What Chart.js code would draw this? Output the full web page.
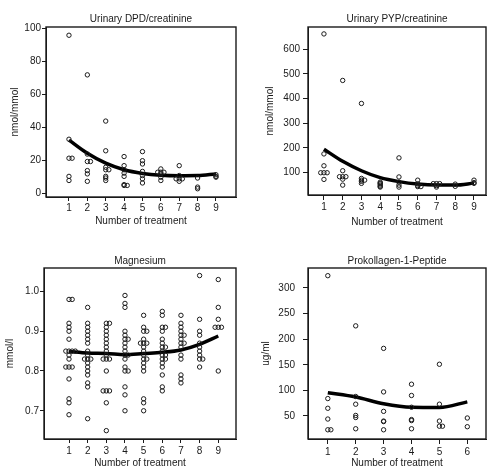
<!DOCTYPE html>
<html><head><meta charset="utf-8">
<script src="https://cdn.jsdelivr.net/npm/chart.js@4.4.0/dist/chart.umd.min.js"></script>
<style>
html,body{margin:0;padding:0;background:#fff;}
#wrap{position:relative;width:500px;height:475px;overflow:hidden;background:#fff;}
canvas{position:absolute;}
</style></head><body>
<div id="wrap">
<canvas id="c1" width="250" height="238" style="left:0px;top:0px"></canvas>
<canvas id="c2" width="250" height="238" style="left:250px;top:0px"></canvas>
<canvas id="c3" width="250" height="238" style="left:0px;top:237px"></canvas>
<canvas id="c4" width="250" height="238" style="left:250px;top:237px"></canvas>
</div>
<script>
// ---- data ----
const treatments9 = [1,2,3,4,5,6,7,8,9];
const treatments6 = [1,2,3,4,5,6];

const titles = ["Urinary DPD/creatinine","Urinary PYP/creatinine","Magnesium","Prokollagen-1-Peptide"];
const yTitles = ["nmol/mmol","nmol/mmol","mmol/l","ug/ml"];
const xTitle = "Number of treatment";

const dpdTicks = [0,20,40,60,80,100];
const pypTicks = [100,200,300,400,500,600];
const mgTicks = [0.7,0.8,0.9,1.0];
const prokTicks = [50,100,150,200,250,300];

const dpdValues = [
  [96,33,21.5,21.5,10.5,8],
  [72,24,19.5,19.5,14,12,7.5],
  [44,26,16,14.5,14.5,10.5,9.5,8],
  [22.5,17,14.5,12.5,10.5,5.5,5,5],
  [25.5,20,18,13.5,11,9,6.5],
  [15,13,13,13,12,10,8],
  [17,11,9,9,9,7.5],
  [9.5,4,3],
  [11.5,10.5,10]
];
const dpdCurve = [32.5,24.5,18.5,14.5,12.3,11.2,10.9,11,12];

const pypValues = [
  [661,176,128,100,100,100,73],
  [473,108,84,84,84,74,50],
  [380,77,70,70,65,57],
  [62,58,55,50,45,42],
  [160,83,62,50,42],
  [70,55,48,44,44],
  [56,56,56,48,42],
  [54,45],
  [70,60,57]
];
const pypCurve = [195,146,108,80,64,54,50,50,58];

const mgValues = [
  [0.98,0.98,0.92,0.91,0.90,0.88,0.85,0.85,0.85,0.85,0.84,0.83,0.81,0.81,0.81,0.78,0.73,0.72,0.69],
  [0.96,0.92,0.91,0.90,0.89,0.88,0.87,0.85,0.84,0.83,0.83,0.83,0.82,0.81,0.80,0.79,0.77,0.76,0.68],
  [0.92,0.92,0.91,0.90,0.89,0.88,0.87,0.86,0.85,0.84,0.83,0.83,0.83,0.80,0.75,0.75,0.75,0.72,0.65],
  [0.99,0.97,0.96,0.90,0.89,0.88,0.88,0.87,0.86,0.85,0.84,0.84,0.83,0.81,0.80,0.80,0.76,0.74,0.70],
  [0.94,0.91,0.90,0.90,0.88,0.87,0.87,0.87,0.86,0.85,0.84,0.83,0.83,0.82,0.81,0.80,0.73,0.72,0.70],
  [0.95,0.94,0.91,0.91,0.90,0.88,0.87,0.86,0.86,0.85,0.84,0.84,0.83,0.83,0.82,0.81,0.79,0.76,0.75],
  [0.94,0.92,0.91,0.90,0.89,0.89,0.88,0.87,0.87,0.86,0.84,0.83,0.79,0.78,0.77],
  [1.04,0.93,0.90,0.89,0.87,0.86,0.85,0.84,0.83,0.83,0.81],
  [1.03,0.96,0.93,0.91,0.91,0.91,0.80]
];
const mgCurve = [0.849,0.845,0.844,0.841,0.844,0.847,0.853,0.867,0.888];

const prokValues = [
  [324,84,65,44,23,23],
  [226,88,73,51,47,25],
  [182,97,59,40,39,23],
  [112,90,67,43,41,25],
  [151,73,40,30,30],
  [46,29]
];
const prokCurve = [95.5,87,74,67,66.5,77.5];

// ---- helpers ----
const FONT = "'Liberation Sans', Arial, sans-serif";
const INK = '#1a1a1a';

function toPoints(cats, groups, step){
  const pts = [];
  const jit = [0, 1, -1, 2, -2, 3];
  groups.forEach((vals, i) => {
    const seen = {};
    vals.forEach(v => {
      const k = seen[v] || 0; seen[v] = k + 1;
      pts.push({x: cats[i] + jit[k] * step, y: v});
    });
  });
  return pts;
}
function toCurve(cats, vals){ return cats.map((c,i)=>({x:c, y:vals[i]})); }

const framePlugin = {
  id: 'frameAndTitle',
  afterDraw(chart, args, opts){
    const {ctx, chartArea:a} = chart;
    ctx.save();
    ctx.strokeStyle = INK; ctx.lineWidth = 1.4;
    ctx.strokeRect(a.left, a.top, a.right - a.left, a.bottom - a.top);
    ctx.fillStyle = INK;
    ctx.font = '10px ' + FONT;
    ctx.textAlign = 'center'; ctx.textBaseline = 'middle';
    ctx.fillText(opts.text, (a.left + a.right)/2, opts.y);
    ctx.restore();
  }
};

function makePanel(id, cfg){
  const H = 238, W = 250;
  const box = cfg.box; // local coords l,t,r,b
  new Chart(document.getElementById(id), {
    type: 'scatter',
    data: { datasets: [
      { data: toPoints(cfg.cats, cfg.values, cfg.jitter), pointRadius: 2.2, pointBorderWidth: 1,
        pointBorderColor: INK, pointBackgroundColor: 'rgba(0,0,0,0)', borderColor: INK, backgroundColor:'rgba(0,0,0,0)' },
      { data: toCurve(cfg.cats, cfg.curve), showLine: true, pointRadius: 0, borderColor: '#000',
        borderWidth: 3.5, tension: 0.4, cubicInterpolationMode: 'monotone', fill: false }
    ]},
    options: {
      responsive: false, animation: false, devicePixelRatio: 1,
      layout: { padding: { left: 0, top: box.t, right: W - box.r, bottom: 0 } },
      plugins: { legend: {display:false}, tooltip: {enabled:false},
        frameAndTitle: { text: cfg.title, y: cfg.titleY } },
      scales: {
        x: {
          type: 'linear', min: cfg.xmin, max: cfg.xmax,
          afterBuildTicks: s => { s.ticks = cfg.cats.map(v => ({value: v})); },
          afterFit: s => { s.height = H - box.b; },
          grid: { drawOnChartArea: false, drawTicks: true, tickLength: cfg.xTick, color: INK, lineWidth: 1 },
          border: { display: true, color: INK, width: 1 },
          ticks: { color: INK, font: {family: FONT, size: 10}, padding: cfg.xPad, maxRotation: 0, autoSkip: false },
          title: { display: true, text: xTitle, color: INK, font: {family: FONT, size: 10}, padding: {top: 0, bottom: cfg.xTitlePad} }
        },
        y: {
          type: 'linear', min: cfg.ymin, max: cfg.ymax,
          afterBuildTicks: s => { s.ticks = cfg.yTicks.map(v => ({value: v})); },
          afterFit: s => { s.width = box.l; },
          grid: { drawOnChartArea: false, drawTicks: true, tickLength: cfg.yTick, color: INK, lineWidth: 1 },
          border: { display: true, color: INK, width: 1 },
          ticks: { color: INK, font: {family: FONT, size: 10}, padding: cfg.yPad, autoSkip: false,
                   callback: cfg.fmt || (v => String(v)) },
          title: { display: true, text: cfg.yTitle, color: INK, font: {family: FONT, size: 10}, padding: {top: cfg.yTitlePad, bottom: 0} }
        }
      }
    },
    plugins: [framePlugin]
  });
}

makePanel('c1', { title: titles[0], yTitle: yTitles[0], titleY: 19,
  box: {l:46, t:27, r:236, b:197}, cats: treatments9, values: dpdValues, curve: dpdCurve, jitter: 0.17,
  xmin: -0.25, xmax: 10.09, ymin: -2, ymax: 101, yTicks: dpdTicks,
  xTick: 4, xPad: 1, yTick: 4, yPad: 1, xTitlePad: 11, yTitlePad: 9 });

makePanel('c2', { title: titles[1], yTitle: yTitles[1], titleY: 19,
  box: {l:58, t:27, r:236, b:195}, cats: treatments9, values: pypValues, curve: pypCurve, jitter: 0.17,
  xmin: 0.15, xmax: 9.64, ymin: 10, ymax: 689, yTicks: pypTicks,
  xTick: 5, xPad: 1, yTick: 5, yPad: 3, xTitlePad: 10, yTitlePad: 14 });

makePanel('c3', { title: titles[2], yTitle: yTitles[2], titleY: 24,
  box: {l:44, t:31, r:236, b:202}, cats: treatments9, values: mgValues, curve: mgCurve, jitter: 0.17,
  xmin: -0.34, xmax: 9.95, ymin: 0.629, ymax: 1.059, yTicks: mgTicks, fmt: v => v.toFixed(1),
  xTick: 4, xPad: 2, yTick: 4, yPad: 1, xTitlePad: 6, yTitlePad: 4 });

makePanel('c4', { title: titles[3], yTitle: yTitles[3], titleY: 24,
  box: {l:58, t:31, r:236, b:202}, cats: treatments6, values: prokValues, curve: prokCurve, jitter: 0.11,
  xmin: 0.29, xmax: 6.67, ymin: 5, ymax: 339, yTicks: prokTicks,
  xTick: 5, xPad: 2, yTick: 5, yPad: 8, xTitlePad: 6, yTitlePad: 10 });
</script>
</body></html>
